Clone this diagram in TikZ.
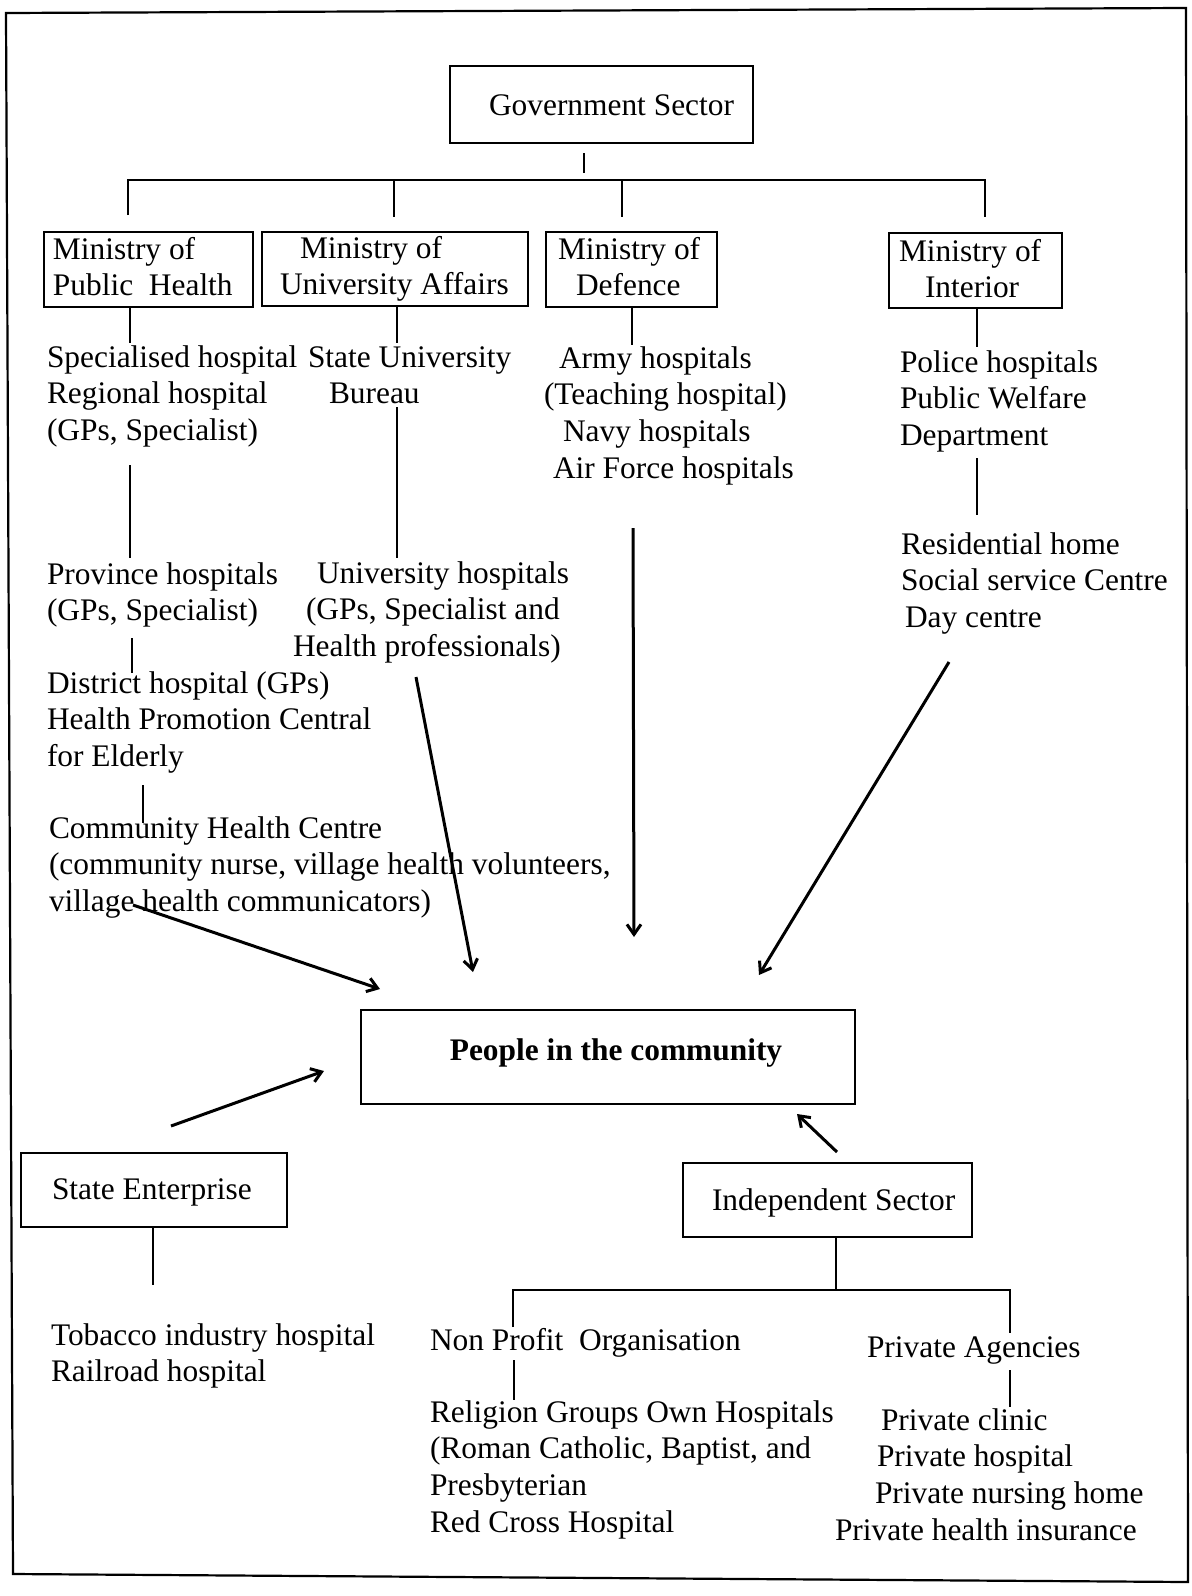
\documentclass[tikz,border=0pt]{standalone}
\usepackage{fontspec}
\setmainfont{Liberation Serif}
\usetikzlibrary{arrows.meta}
% several lines of text stacked, first baseline on the node's base
\newcommand\rows[1]{\begin{tabular}[t]{@{}l@{}}#1\end{tabular}}
\renewcommand\arraystretch{1}

\begin{document}
\begin{tikzpicture}[x=0.5pt,y=-0.5pt,
  every node/.style={font=\fontsize{15.7}{18.35}\selectfont, inner sep=0pt, outer sep=0pt},
  txt/.style={anchor=base west},
  boxnode/.style 2 args={draw, line width=1.3pt, minimum width=#1*0.5pt, minimum height=#2*0.5pt},
  frame/.style={line width=1.1pt, line join=miter},
  link/.style={line width=1.2pt},
  flow/.style={line width=1.5pt, -{Straight Barb[length=5pt,width=7pt]}}]

\useasboundingbox (0,0) rectangle (1192,1596);

% outer frame
\draw[frame] (6,13) -- (1186,8) -- (1188,1582) -- (13,1574) -- cycle;

% boxes
\node[boxnode={303}{77}] (gov) at (601.5,104.5) {};
\node[boxnode={209}{75}] (mph) at (148.5,269.5) {};
\node[boxnode={266}{74}] (mua) at (395,269) {};
\node[boxnode={171}{75}] (mod) at (631.5,269.5) {};
\node[boxnode={173}{75}] (moi) at (975.5,270.5) {};
\node[boxnode={494}{94}] (people) at (608,1057) {};
\node[boxnode={266}{74}] (state) at (154,1190) {};
\node[boxnode={289}{74}] (indep) at (827.5,1200) {};

% box labels
\node[txt] (govT) at (489,115) {Government Sector};
\node[txt] (mphT) at (53,259) {\rows{Ministry of\\Public~~Health}};
\node[txt] (muaT) at (280,258) {\rows{\hspace*{10pt}Ministry of\\University Affairs}};
\node[txt] (modT) at (558,259) {\rows{Ministry of\\\hspace*{9pt}Defence}};
\node[txt] (moiT) at (899,261) {\rows{Ministry of\\\hspace*{13pt}Interior}};
\node[anchor=base] (peopleT) at (616,1060) {\bfseries People in the community};
\node[txt] (stateT) at (52,1199) {State Enterprise};
\node[txt] (indepT) at (712,1210) {Independent Sector};

% Ministry of Public Health
\node[txt] (ph1) at (47,367) {\rows{Specialised hospital\\Regional hospital\\(GPs, Specialist)}};
\node[txt] (ph2) at (47,584) {\rows{Province hospitals\\(GPs, Specialist)}};
\node[txt] (ph3) at (47,693) {\rows{District hospital (GPs)\\Health Promotion Central\\for Elderly}};
\node[txt] (ph4) at (49,838) {\rows{Community Health Centre\\(community nurse, village health volunteers,\\village health communicators)}};

% Ministry of University Affairs
\node[txt] (ua1) at (308,367) {\rows{State University\\\hspace*{10.5pt}Bureau}};
\node[txt] (ua2) at (293,583) {\rows{\hspace*{12pt}University hospitals\\\hspace*{6.5pt}(GPs, Specialist and\\Health professionals)}};

% Ministry of Defence
\node[txt] (df1) at (544,368) {\rows{\hspace*{7.5pt}Army hospitals\\(Teaching hospital)\\\hspace*{9.5pt}Navy hospitals\\\hspace*{4.5pt}Air Force hospitals}};

% Ministry of Interior
\node[txt] (in1) at (900,372) {\rows{Police hospitals\\Public Welfare\\Department}};
\node[txt] (in2) at (901,554) {\rows{Residential home\\Social service Centre\\\hspace*{2pt}Day centre}};

% State Enterprise
\node[txt] (se1) at (51,1345) {\rows{Tobacco industry hospital\\Railroad hospital}};

% Independent Sector
\node[txt] (np1) at (430,1350) {Non Profit~~Organisation};
\node[txt] (np2) at (430,1422) {\rows{Religion Groups Own Hospitals\\(Roman Catholic, Baptist, and\\Presbyterian\\Red Cross Hospital}};
\node[txt] (pa1) at (867,1357) {Private Agencies};
\node[txt] (pa2) at (835,1430) {\rows{\hspace*{23pt}Private clinic\\\hspace*{21pt}Private hospital\\\hspace*{20pt}Private nursing home\\Private health insurance}};

% government tree
\coordinate (gs1) at (584,153);  \coordinate (gs2) at (584,173);
\coordinate (bl) at (128,215);   \coordinate (br) at (985,180);  \coordinate (brd) at (985,217);
\coordinate (bu1) at (394,180);  \coordinate (bu2) at (394,217);
\coordinate (bd1) at (622,180);  \coordinate (bd2) at (622,217);
\draw[link] (gs1) -- (gs2);
\draw[link] (bl) |- (br) -- (brd);
\draw[link] (bu1) -- (bu2);
\draw[link] (bd1) -- (bd2);

% column links
\draw[link] (mph.south -| 130,0) -- (130,343);
\draw[link] (130,465) coordinate (p2a) -- (130,558) coordinate (p2b);
\draw[link] (132,638) coordinate (p3a) -- (132,673) coordinate (p3b);
\draw[link] (143,785) coordinate (p4a) -- (143,823) coordinate (p4b);
\draw[link] (mua.south -| 397,0) -- (397,343);
\draw[link] (397,407) coordinate (u2a) -- (397,558) coordinate (u2b);
\draw[link] (mod.south -| 632,0) -- (632,345);
\draw[link] (moi.south -| 977,0) -- (977,347);
\draw[link] (977,458) coordinate (i2a) -- (977,515) coordinate (i2b);
\draw[link] (state.south -| 153,0) -- (153,1285);

% independent tree
\coordinate (xl) at (513,1327); \coordinate (xr) at (1010,1290); \coordinate (xrd) at (1010,1333);
\draw[link] (indep.south -| 836,0) -- (836,1290);
\draw[link] (xl) |- (xr) -- (xrd);
\draw[link] (514,1360) coordinate (n2a) -- (514,1400) coordinate (n2b);
\draw[link] (1010,1370) coordinate (r2a) -- (1010,1407) coordinate (r2b);

% flows towards the community
\coordinate (f1s) at (133,905);  \coordinate (f1e) at (380,989);
\coordinate (f2s) at (416,677);  \coordinate (f2e) at (473,972);
\coordinate (f3s) at (633,528);  \coordinate (f3e) at (634,937);
\coordinate (f4s) at (949,662);  \coordinate (f4e) at (759,975);
\coordinate (f5s) at (171,1126); \coordinate (f5e) at (324,1071);
\coordinate (f6s) at (837,1152); \coordinate (f6e) at (797,1114);
\draw[flow] (f1s) -- (f1e);
\draw[flow] (f2s) -- (f2e);
\draw[flow] (f3s) -- (f3e);
\draw[flow] (f4s) -- (f4e);
\draw[flow] (f5s) -- (f5e);
\draw[flow] (f6s) -- (f6e);

\end{tikzpicture}
\end{document}
